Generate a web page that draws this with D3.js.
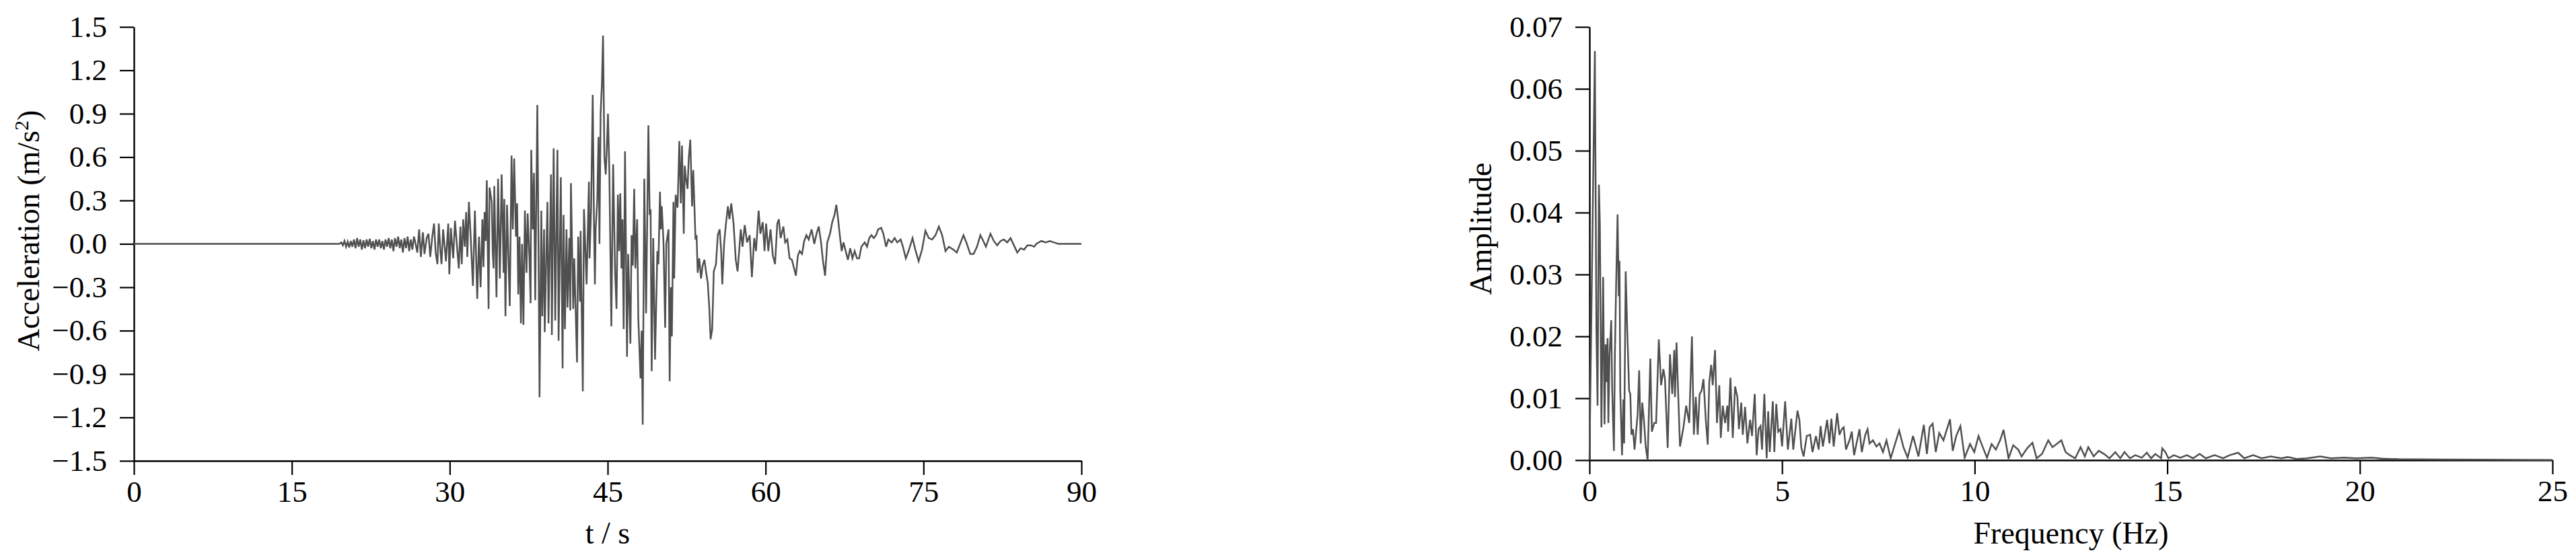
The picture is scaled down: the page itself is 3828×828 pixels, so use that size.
<!DOCTYPE html>
<html>
<head>
<meta charset="utf-8">
<script src="https://cdn.jsdelivr.net/npm/d3@7"></script>
<style>
  body { margin: 0; background: #fff; }
  svg text { font-family: "Liberation Serif", "Times New Roman", serif; fill: #000; }
</style>
</head>
<body>
<svg id="fig" width="3828" height="828"></svg>
<script>
// acceleration record, [time (s), acceleration (m/s^2)]
const accel = [
  [0,0],[19.5,0],[19.7,0.01],[19.85,-0.01],[20.0,0.02],[20.15,-0.02],[20.3,0.015],[20.45,-0.025],[20.6,0.02],[20.75,-0.02],
  [20.9,0.03],[21.05,-0.03],[21.2,0.04],[21.35,-0.02],[21.5,0.03],[21.65,-0.04],[21.8,0.025],[21.95,-0.03],[22.1,0.03],[22.25,-0.02],
  [22.4,0.035],[22.55,-0.03],[22.7,0.02],[22.85,-0.04],[23.0,0.03],[23.15,-0.02],[23.3,0.03],[23.45,-0.03],[23.6,0.02],[23.75,-0.04],
  [23.9,0.03],[24.05,-0.02],[24.2,0.04],[24.35,-0.03],[24.5,0.03],[24.65,-0.05],[24.8,0.04],[24.95,-0.02],[25.1,0.05],[25.25,-0.03],
  [25.4,0.03],[25.55,-0.06],[25.7,0.04],[25.85,-0.03],[26.0,0.05],[26.15,-0.05],[26.3,0.03],[26.45,-0.04],[26.6,0.05],
  [26.70,0.02],[26.92,-0.06],[27.09,0.10],[27.26,-0.09],[27.45,0.08],[27.60,-0.07],[27.81,0.04],[27.98,0.07],[28.15,-0.09],[28.34,0.05],
  [28.51,0.14],[28.66,-0.06],[28.83,-0.14],[28.96,0.14],[29.11,-0.05],[29.22,-0.14],[29.37,0.10],[29.52,-0.02],[29.64,-0.12],[29.86,0.14],
  [29.96,-0.21],[30.11,0.11],[30.24,-0.02],[30.33,-0.10],[30.50,0.16],[30.67,0.0],[30.86,-0.17],[31.01,0.12],[31.14,-0.14],[31.28,0.17],
  [31.43,-0.02],[31.56,0.22],[31.67,-0.09],[31.82,0.29],[31.99,0.05],[32.20,-0.29],[32.39,0.23],[32.61,-0.38],[32.78,0.05],[32.93,-0.30],
  [33.10,0.17],[33.20,-0.16],[33.31,0.22],[33.42,0.02],[33.52,0.44],[33.69,-0.45],[33.78,0.39],[33.99,0.29],[34.08,-0.05],[34.16,-0.17],
  [34.23,0.40],[34.44,-0.37],[34.59,0.45],[34.76,-0.24],[34.93,0.48],[35.12,-0.20],[35.18,0.31],[35.29,-0.50],[35.44,0.27],[35.70,-0.43],
  [35.87,0.61],[35.99,0.10],[36.12,0.59],[36.29,0.05],[36.40,0.28],[36.51,-0.35],[36.63,0.05],[36.76,-0.55],[36.87,0.0],[37.00,-0.56],
  [37.14,0.23],[37.29,-0.20],[37.40,0.21],[37.57,-0.10],[37.68,-0.41],[37.74,0.65],[37.89,0.10],[38.00,0.49],[38.12,-0.39],[38.32,0.96],
  [38.42,0.10],[38.53,-1.06],[38.70,0.23],[38.79,-0.50],[38.96,0.10],[39.02,-0.61],[39.28,0.29],[39.38,-0.55],[39.62,0.48],[39.70,-0.63],
  [39.87,0.66],[40.02,-0.53],[40.23,0.65],[40.34,-0.67],[40.55,0.46],[40.72,-0.86],[40.81,0.20],[40.94,-0.59],[41.09,0.10],[41.19,-0.44],
  [41.36,0.04],[41.45,-0.46],[41.51,0.42],[41.73,-0.45],[41.83,-0.10],[42.09,-0.82],[42.20,0.05],[42.37,-0.40],[42.43,0.09],[42.64,-1.02],
  [42.75,0.24],[43.00,-0.28],[43.22,0.43],[43.28,-0.10],[43.43,0.25],[43.58,1.03],[43.71,0.10],[43.79,-0.28],[43.86,0.10],[44.01,0.30],
  [44.13,0.74],[44.22,0.0],[44.33,0.90],[44.45,1.10],[44.56,1.44],[44.69,0.60],[44.82,0.48],[44.94,0.70],[45.03,0.90],[45.16,0.50],
  [45.35,-0.57],[45.52,0.55],[45.71,-0.20],[45.84,-0.45],[45.97,0.34],[46.09,-0.05],[46.20,0.35],[46.31,-0.17],[46.41,0.17],[46.52,-0.59],
  [46.65,0.64],[46.84,-0.78],[46.95,-0.07],[47.16,-0.69],[47.27,0.06],[47.39,-0.15],[47.52,0.38],[47.63,-0.17],[47.80,0.17],[47.91,-0.51],
  [48.12,-0.93],[48.23,-0.60],[48.33,-1.25],[48.48,0.45],[48.65,-0.48],[48.87,0.82],[48.99,0.20],[49.08,0.24],[49.18,-0.88],[49.33,0.04],
  [49.50,-0.80],[49.72,-0.05],[49.82,-0.14],[49.97,0.36],[50.06,0.10],[50.14,0.26],[50.31,0.0],[50.46,-0.58],[50.57,0.0],[50.78,0.10],
  [50.89,-0.95],[51.00,-0.30],[51.10,-0.64],[51.25,0.29],[51.32,-0.24],[51.46,0.34],[51.64,0.25],[51.81,0.71],[51.95,0.28],[52.06,0.68],
  [52.23,0.07],[52.32,0.54],[52.44,0.45],[52.59,0.38],[52.70,0.59],[52.85,0.72],[53.02,0.26],[53.13,0.51],[53.34,0.04],[53.45,0.05],
  [53.55,-0.20],[53.70,-0.10],[53.87,-0.24],[54.02,-0.15],[54.19,-0.11],[54.36,-0.20],[54.51,-0.27],[54.66,-0.45],[54.78,-0.66],[54.93,-0.59],
  [55.08,-0.19],[55.29,-0.14],[55.46,0.06],[55.64,0.10],[55.78,-0.05],[55.89,-0.28],[56.06,0.0],[56.21,0.12],[56.42,0.26],[56.57,0.17],
  [56.74,0.28],[56.96,0.14],[57.17,-0.11],[57.34,-0.19],[57.49,-0.05],[57.64,0.10],[57.81,-0.02],[58.02,0.13],[58.24,0.01],[58.49,0.06],
  [58.70,-0.23],[58.92,0.04],[59.09,-0.05],[59.34,0.23],[59.51,0.07],[59.73,0.15],[59.90,-0.05],[60.05,0.14],[60.26,-0.05],[60.47,0.10],
  [60.69,-0.08],[60.90,-0.14],[61.11,0.14],[61.26,0.17],[61.43,0.04],[61.69,0.12],[61.86,0.01],[62.07,0.03],[62.28,-0.10],[62.50,-0.11],
  [62.67,-0.16],[62.88,-0.22],[63.07,-0.08],[63.24,-0.05],[63.46,-0.07],[63.67,0.02],[63.88,0.06],[64.10,0.03],[64.37,0.10],[64.63,0.0],
  [64.84,0.07],[65.05,0.12],[65.27,0.01],[65.44,-0.11],[65.65,-0.22],[65.86,0.01],[66.12,0.07],[66.33,0.15],[66.55,0.20],[66.72,0.27],
  [66.89,0.17],[67.08,0.04],[67.23,-0.05],[67.40,0.01],[67.61,-0.05],[67.82,-0.11],[68.04,-0.03],[68.25,-0.10],[68.46,-0.05],[68.68,-0.10],
  [68.89,-0.10],[69.10,-0.02],[69.42,0.01],[69.64,-0.02],[69.85,0.04],[70.06,0.06],[70.28,0.04],[70.49,0.06],[70.70,0.10],[70.98,0.11],
  [71.19,0.07],[71.45,-0.02],[71.66,0.03],[71.98,0.01],[72.26,0.04],[72.51,0.01],[72.83,0.03],[73.05,-0.02],[73.32,-0.10],[73.58,-0.05],
  [73.96,0.04],[74.22,-0.04],[74.54,-0.12],[74.86,-0.04],[75.18,0.09],[75.50,0.04],[75.82,0.03],[76.14,0.06],[76.46,0.12],[76.77,0.06],
  [77.09,-0.05],[77.41,-0.02],[77.84,-0.04],[78.16,-0.06],[78.48,0.0],[78.80,0.06],[79.12,0.0],[79.44,-0.07],[79.76,-0.07],[80.08,-0.02],
  [80.40,0.06],[80.61,0.03],[80.93,-0.02],[81.36,0.07],[81.68,0.02],[82.00,-0.01],[82.32,0.02],[82.64,0.03],[82.95,0.01],[83.27,0.04],
  [83.59,-0.01],[83.91,-0.06],[84.23,-0.03],[84.55,-0.04],[84.87,-0.01],[85.19,-0.01],[85.51,-0.02],[85.72,0.0],[86.2,0.02],[86.6,0.01],
  [87.0,0.02],[87.4,0.01],[87.8,0.0],[88.2,0.0],[90,0]
];
const timeTicks = [0, 15, 30, 45, 60, 75, 90];
const accelTicks = [-1.5, -1.2, -0.9, -0.6, -0.3, 0, 0.3, 0.6, 0.9, 1.2, 1.5];

// Fourier amplitude spectrum, [frequency (Hz), amplitude]
const spectrum = [
  [0,0],[0.14,0.0661],[0.18,0.0211],[0.21,0.0088],[0.245,0.0445],[0.27,0.0381],[0.31,0.0053],[0.355,0.0296],[0.39,0.0058],[0.42,0.0187],
  [0.44,0.0126],[0.47,0.0197],[0.49,0.006],[0.52,0.0169],[0.565,0.0226],[0.59,0.0112],[0.635,0.0015],[0.66,0.0171],[0.69,0.0277],[0.73,0.0397],
  [0.76,0.0265],[0.78,0.0322],[0.80,0.0112],[0.845,0.0008],[0.88,0.0098],[0.90,0.0027],[0.94,0.0305],[0.98,0.0211],[1.03,0.0112],[1.06,0.0107],
  [1.09,0.0041],[1.13,0.005],[1.17,0.0017],[1.25,0.0074],[1.29,0.0145],[1.33,0.0027],[1.37,0.0093],[1.42,0.006],[1.46,0.0022],[1.51,0],
  [1.58,0.0164],[1.62,0.0046],[1.68,0.006],[1.73,0.006],[1.80,0.0195],[1.86,0.0121],[1.92,0.0147],[1.96,0.0131],[2.03,0.002],[2.09,0.0171],
  [2.15,0.0107],[2.20,0.0178],[2.22,0.0102],[2.26,0.019],[2.29,0.0131],[2.35,0.0022],[2.44,0.0053],[2.51,0.0088],[2.59,0.006],[2.66,0.020],
  [2.71,0.0041],[2.76,0.0102],[2.81,0.0041],[2.86,0.0107],[2.91,0.0112],[2.96,0.0131],[3.02,0.0065],[3.07,0.0025],[3.11,0.0126],[3.16,0.0154],
  [3.20,0.0121],[3.26,0.0178],[3.31,0.006],[3.37,0.0121],[3.41,0.0036],[3.46,0.0088],[3.52,0.006],[3.58,0.0088],[3.60,0.0046],[3.66,0.0133],
  [3.72,0.0036],[3.78,0.0119],[3.84,0.0102],[3.88,0.005],[3.94,0.0093],[3.98,0.0041],[4.04,0.0086],[4.10,0.0027],[4.17,0.0065],[4.22,0.0039],
  [4.29,0.0107],[4.34,0.0008],[4.39,0.005],[4.44,0.0055],[4.48,0.0017],[4.54,0.0107],[4.60,0.0003],[4.64,0.0079],[4.68,0.0013],[4.76,0.0095],
  [4.80,0.0013],[4.85,0.0091],[4.90,0.0046],[4.96,0.005],[5.0,0.0022],[5.08,0.0095],[5.15,0.0017],[5.24,0.0067],[5.29,0.0017],[5.40,0.008],
  [5.45,0.0065],[5.50,0.002],[5.56,0.0006],[5.64,0.0039],[5.73,0.0041],[5.79,0.0013],[5.88,0.0039],[5.95,0.0017],[6.0,0.0055],[6.06,0.0022],
  [6.17,0.0065],[6.23,0.0027],[6.28,0.0067],[6.34,0.0022],[6.43,0.0076],[6.49,0.0041],[6.55,0.005],[6.60,0.0053],[6.66,0.0017],[6.75,0.0032],
  [6.81,0.0046],[6.87,0.0008],[6.95,0.0032],[7.01,0.005],[7.07,0.0013],[7.16,0.0041],[7.22,0.005],[7.27,0.0027],[7.36,0.0032],[7.45,0.0022],
  [7.53,0.0027],[7.62,0.0013],[7.71,0.0032],[7.82,0.0003],[8.04,0.0048],[8.15,0.0021],[8.26,0.0004],[8.40,0.0039],[8.54,0.0006],[8.68,0.0057],
  [8.76,0.001],[8.83,0.0053],[8.91,0.0059],[8.99,0.0013],[9.08,0.0044],[9.19,0.0032],[9.27,0.0048],[9.36,0.0066],[9.43,0.0015],[9.52,0.0039],
  [9.63,0.0055],[9.74,0.0004],[9.88,0.0026],[9.99,0.0013],[10.1,0.0039],[10.21,0.0021],[10.32,0.0004],[10.44,0.0026],[10.55,0.0017],[10.66,0.0032],
  [10.75,0.0049],[10.88,0.0003],[11.0,0.0024],[11.13,0.0017],[11.22,0.0006],[11.36,0.0019],[11.5,0.0028],[11.61,0.0003],[11.75,0.001],[11.91,0.0032],
  [12.02,0.0021],[12.13,0.0026],[12.25,0.0032],[12.36,0.0013],[12.47,0.0008],[12.61,0.0003],[12.75,0.0021],[12.86,0.0006],[12.95,0.0021],[13.09,0.0006],
  [13.22,0.0015],[13.36,0.001],[13.5,0.0003],[13.65,0.0013],[13.78,0.0003],[13.89,0.0013],[14.03,0.0003],[14.17,0.0008],[14.34,0.0004],[14.47,0.0012],
  [14.58,0.0003],[14.69,0.001],[14.84,0.0003],[14.87,0.0019],[14.95,0.0013],[15.03,0.0003],[15.17,0.0008],[15.34,0.0004],[15.51,0.0008],[15.67,0.0003],
  [15.84,0.001],[16.0,0.0003],[16.23,0.0008],[16.45,0.0003],[16.62,0.0008],[16.84,0.0012],[17.0,0.0003],[17.23,0.0008],[17.45,0.0003],[17.68,0.0006],
  [17.96,0.0003],[18.13,0.0005],[18.35,0.0002],[18.63,0.0003],[18.97,0.0006],[19.25,0.0003],[19.58,0.0004],[19.91,0.0003],[20.3,0.0004],[20.58,0.00025],
  [21.0,0.00015],[22,0.0001],[23,0.00008],[24,0.00005],[25,0.00003]
];
const freqTicks = [0, 5, 10, 15, 20, 25];
const ampTicks = [0, 0.01, 0.02, 0.03, 0.04, 0.05, 0.06, 0.07];

const svg = d3.select('#fig');
const lineColor = '#505050';

// draws one panel: axes, titles and the trace
function panel(p) {
  const x = d3.scaleLinear().domain(p.xDomain).range([p.left, p.right]);
  const y = d3.scaleLinear().domain(p.yDomain).range([p.bottom, p.top]);
  const g = svg.append('g');

  const xAxis = g.append('g')
    .attr('transform', `translate(0,${p.bottom})`)
    .call(d3.axisBottom(x).tickValues(p.xTicks).tickSize(21).tickSizeOuter(0).tickPadding(8).tickFormat(d3.format('d')));
  const yAxis = g.append('g')
    .attr('transform', `translate(${p.left},0)`)
    .call(d3.axisLeft(y).tickValues(p.yTicks).tickSize(21).tickSizeOuter(0).tickPadding(19).tickFormat(d3.format(p.yFormat)));

  [xAxis, yAxis].forEach(a => {
    a.select('.domain').attr('stroke', '#000').attr('stroke-width', 2.4);
    a.selectAll('.tick line').attr('stroke', '#000').attr('stroke-width', 2.2);
    a.selectAll('.tick text')
      .attr('font-family', '"Liberation Serif", "Times New Roman", serif')
      .attr('font-size', 45).attr('fill', '#000');
  });

  g.append('path')
    .datum(p.data)
    .attr('fill', 'none')
    .attr('stroke', lineColor)
    .attr('stroke-width', 2.5)
    .attr('d', d3.line().x(d => x(d[0])).y(d => y(d[1])));

  g.append('text')
    .attr('x', (p.left + p.right) / 2)
    .attr('y', 808)
    .attr('text-anchor', 'middle')
    .attr('font-size', 46)
    .text(p.xTitle);

  const yt = g.append('text')
    .attr('transform', `translate(${p.yTitleX},${p.yTitleY}) rotate(-90)`)
    .attr('text-anchor', 'middle')
    .attr('font-size', 46)
    .text(p.yTitle);
  if (p.yTitleSup) {
    yt.append('tspan').attr('font-size', 30).attr('baseline-shift', 'super').text(p.yTitleSup);
    yt.append('tspan').text(')');
  }
}

panel({
  data: accel, xDomain: [0, 90], yDomain: [-1.5, 1.5],
  xTicks: timeTicks, yTicks: accelTicks, yFormat: '.1f',
  left: 199, right: 1607, top: 40, bottom: 685,
  xTitle: 't / s', yTitle: 'Acceleration (m/s', yTitleSup: '2',
  yTitleX: 58, yTitleY: 343
});

panel({
  data: spectrum, xDomain: [0, 25], yDomain: [0, 0.07],
  xTicks: freqTicks, yTicks: ampTicks, yFormat: '.2f',
  left: 2362, right: 3793, top: 40, bottom: 684,
  xTitle: 'Frequency (Hz)', yTitle: 'Amplitude',
  yTitleX: 2216, yTitleY: 340
});
</script>
</body>
</html>
